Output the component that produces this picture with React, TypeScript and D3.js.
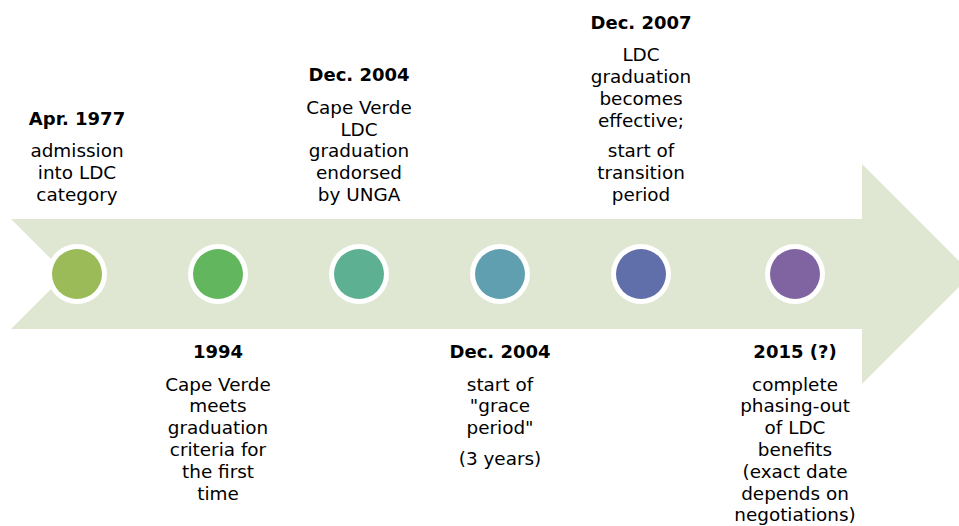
import React from "react";
import * as d3 from "d3";

const titles = ["Apr. 1977", "1994", "Dec. 2004", "Dec. 2004", "Dec. 2007", "2015 (?)"];
const paragraphs: string[][][] = [
  [["admission", "into LDC", "category"]],
  [["Cape Verde", "meets", "graduation", "criteria for", "the first", "time"]],
  [["Cape Verde", "LDC", "graduation", "endorsed", "by UNGA"]],
  [["start of", "\"grace", "period\""], ["(3 years)"]],
  [["LDC", "graduation", "becomes", "effective;"], ["start of", "transition", "period"]],
  [["complete", "phasing-out", "of LDC", "benefits", "(exact date", "depends on", "negotiations)"]],
];
const sides = ["above", "below", "above", "below", "above", "below"];
const colors = ["#9BBB59", "#62B65E", "#5DB192", "#5F9FAF", "#606EA9", "#8064A2"];

const W = 959;
const H = 526;
const FONT = "'DejaVu Sans', Verdana, sans-serif";

export default function App() {
  const idx = d3.range(titles.length);
  const x = d3.scaleLinear().domain([0, 4]).range([77, 641]);
  const cx = (i: number) => (i < 5 ? x(i) : x(i) + 13);
  const cy = 274;
  const half = 55;
  const left = 11;
  const shaftEnd = 862;
  const headHalf = 110;

  const arrow = d3.path();
  arrow.moveTo(left, cy - half);
  arrow.lineTo(shaftEnd, cy - half);
  arrow.lineTo(shaftEnd, cy - headHalf);
  arrow.lineTo(shaftEnd + headHalf, cy);
  arrow.lineTo(shaftEnd, cy + headHalf);
  arrow.lineTo(shaftEnd, cy + half);
  arrow.lineTo(left, cy + half);
  arrow.lineTo(left + half, cy);
  arrow.closePath();

  const lh = 21.8;
  const titleGap = 32.5;
  const paraGap = 9;

  const layout = (i: number) => {
    const paras = paragraphs[i];
    const rel: { text: string; dy: number }[] = [];
    let y = titleGap;
    paras.forEach((p, pi) => {
      if (pi > 0) y += paraGap;
      p.forEach((line, li) => {
        if (li > 0 || pi > 0) y += lh;
        rel.push({ text: line, dy: y });
      });
    });
    const total = y;
    const titleY = sides[i] === "above" ? 201 - total : 358;
    return { titleY, rel };
  };

  return (
    <svg width={W} height={H} style={{ position: "absolute", left: 0, top: 0 }}>
      <rect width={W} height={H} fill="#fff" />
      <path d={arrow.toString()} fill="#DFE7D2" />
      {idx.map((i) => (
        <g key={i}>
          <circle cx={cx(i)} cy={cy} r={30} fill="#fff" />
          <circle cx={cx(i)} cy={cy} r={25} fill={colors[i]} />
        </g>
      ))}
      {idx.map((i) => {
        const { titleY, rel } = layout(i);
        return (
          <g key={"t" + i} fontFamily={FONT} textAnchor="middle" fill="#000">
            <text x={cx(i)} y={titleY} fontWeight="bold" fontSize={18}>
              {titles[i]}
            </text>
            {rel.map((r, k) => (
              <text key={k} x={cx(i)} y={titleY + r.dy} fontSize={18.4}>
                {r.text}
              </text>
            ))}
          </g>
        );
      })}
    </svg>
  );
}
